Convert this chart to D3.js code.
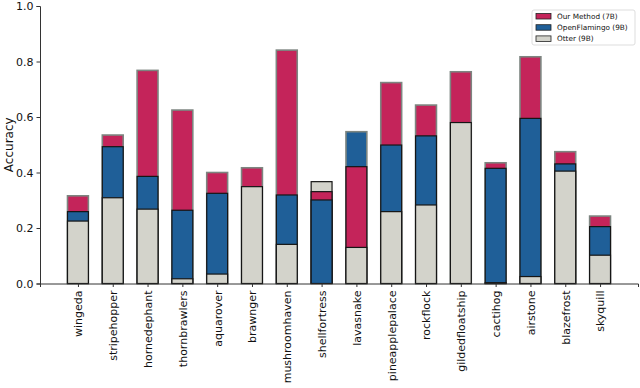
<!DOCTYPE html>
<html>
<head>
<style>
  body { margin: 0; background: #fff; }
  text { font-family: "DejaVu Sans", sans-serif; fill: #111; }
</style>
<script src="https://d3js.org/d3.v7.min.js"></script>
</head>
<body>
<svg width="640" height="388"></svg>
<script>
// values
var categories = ["wingeda", "stripehopper", "hornedephant", "thornbrawlers", "aquarover", "brawnger",
  "mushroomhaven", "shellfortress", "lavasnake", "pineapplepalace", "rockflock", "gildedfloatship",
  "cactihog", "airstone", "blazefrost", "skyquill"];
var ourMethod   = [0.316, 0.535, 0.768, 0.625, 0.400, 0.417, 0.841, 0.331, 0.421, 0.724, 0.643, 0.763, 0.435, 0.817, 0.475, 0.243];
var openFlamingo = [0.259, 0.493, 0.386, 0.264, 0.325, 0.0, 0.319, 0.301, 0.547, 0.499, 0.532, 0.0, 0.415, 0.595, 0.431, 0.205];
var otter       = [0.225, 0.309, 0.268, 0.017, 0.034, 0.349, 0.141, 0.367, 0.130, 0.259, 0.283, 0.580, 0.003, 0.025, 0.405, 0.102];
var seriesNames = ["Our Method (7B)", "OpenFlamingo (9B)", "Otter (9B)"];
var colors = ["#c4245a", "#1f5f98", "#d3d3cb"];
var yTicks = [0.0, 0.2, 0.4, 0.6, 0.8, 1.0];

var svg = d3.select("svg");
var margin = {left: 40, right: 2, top: 6, bottom: 105};
var width = 640, height = 388;

var x = d3.scaleLinear()
  .domain([-1.09, categories.length - 1 + 1.09])
  .range([margin.left, width - margin.right]);
var y = d3.scaleLinear().domain([0, 1]).range([height - margin.bottom + 0.5, margin.top]);
var barW = (x(0.6) - x(0));

var series = [ourMethod, openFlamingo, otter];

// bars of one category are drawn from zero, tallest at the back
categories.forEach(function(c, i) {
  var items = series.map(function(s, k) { return {k: k, v: s[i]}; })
    .filter(function(d) { return d.v > 0; })
    .sort(function(a, b) { return b.v - a.v; });
  var g = svg.append("g");
  items.forEach(function(d, j) {
    g.append("rect")
      .attr("x", x(i) - barW / 2)
      .attr("y", y(d.v))
      .attr("width", barW)
      .attr("height", y(0) - y(d.v))
      .attr("fill", colors[d.k])
      .attr("stroke", j == 0 && d.k != 2 ? "#7d8580" : "#151515")
      .attr("stroke-width", j == 0 && d.k != 2 ? 1.6 : 1.2);
  });
});

// y axis
var yAxis = d3.axisLeft(y).tickValues(yTicks).tickFormat(d3.format(".1f")).tickSize(3.5).tickPadding(3);
var ya = svg.append("g").attr("transform", "translate(" + margin.left + ",0)").call(yAxis);
ya.selectAll("text").style("font-size", "11px");
ya.select(".domain").attr("stroke", "#333");
ya.selectAll(".tick line").attr("stroke", "#333");

// x axis
var xAxis = d3.axisBottom(x).tickValues(d3.range(categories.length))
  .tickFormat(function(i) { return categories[i]; }).tickSize(3.5).tickPadding(3);
var xa = svg.append("g").attr("transform", "translate(0," + y(0) + ")").call(xAxis);
xa.select(".domain").attr("stroke", "#333");
xa.selectAll(".tick line").attr("stroke", "#333");
xa.selectAll("text")
  .style("font-size", "11px")
  .attr("transform", "rotate(-90)")
  .attr("text-anchor", "end")
  .attr("x", -7)
  .attr("y", 0)
  .attr("dy", "0.35em");

svg.append("text")
  .attr("transform", "translate(13," + y(0.5) + ") rotate(-90)")
  .attr("text-anchor", "middle")
  .style("font-size", "12px")
  .text("Accuracy");

// legend
var lg = svg.append("g").attr("transform", "translate(532,10)");
lg.append("rect").attr("width", 103).attr("height", 35)
  .attr("fill", "#fff").attr("stroke", "#ddd").attr("rx", 2);
seriesNames.forEach(function(n, k) {
  lg.append("rect").attr("x", 4).attr("y", 3.5 + k * 11.2).attr("width", 15).attr("height", 5.5)
    .attr("fill", colors[k]).attr("stroke", "#222").attr("stroke-width", 0.8);
  lg.append("text").attr("x", 25).attr("y", 6.5 + k * 11.2).attr("dy", "0.35em")
    .style("font-size", "7.3px").text(n);
});
</script>
</body>
</html>
